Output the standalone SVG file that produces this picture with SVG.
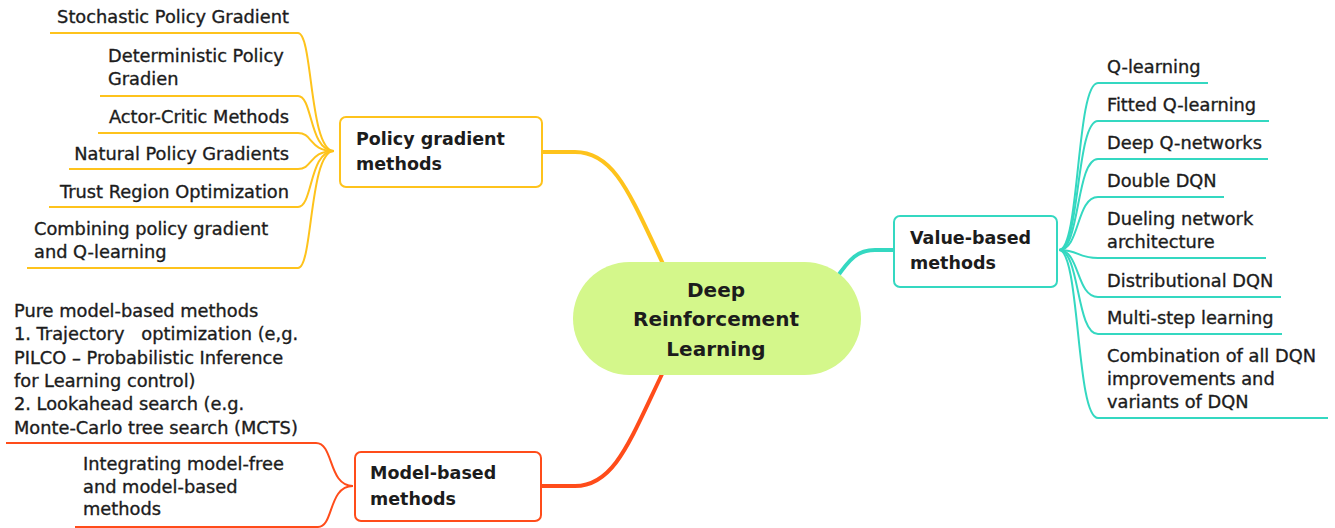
<svg xmlns="http://www.w3.org/2000/svg" width="1335" height="528" viewBox="0 0 1335 528">
<style>
text{font-family:"DejaVu Sans","Liberation Sans",sans-serif;fill:#1c1c1c}
.leaf{font-size:17.8px;stroke:#1c1c1c;stroke-width:0.35}
.lbl{font-size:17.5px;font-weight:bold}
.ctr{font-size:20px;font-weight:bold;text-anchor:middle}
.r{text-anchor:end}
.y{stroke:#FEC31C;fill:none;stroke-width:2}
.t{stroke:#34D8C1;fill:none;stroke-width:2}
.o{stroke:#FF4C1A;fill:none;stroke-width:2}
.box{fill:#fff;stroke-width:2}
</style>
<rect width="1335" height="528" fill="#fff"/>
<g id="connectors">
  <path d="M542 152 L575 152 C615 152 630 195 665 268" stroke="#FEC31C" stroke-width="4" fill="none"/>
  <path d="M665 368 C630 440 615 486 575 486 L541 486" stroke="#FF4C1A" stroke-width="4" fill="none"/>
  <path d="M835 280 C850 258 858 250 875 250 L894 250" stroke="#34D8C1" stroke-width="4" fill="none"/>
  <path class="y" d="M298 33 C313 33 309 151 334 151"/>
  <path class="y" d="M298 96 C313 96 309 151 334 151"/>
  <path class="y" d="M298 133 C313 133 309 151 334 151"/>
  <path class="y" d="M298 169 C313 169 309 151 334 151"/>
  <path class="y" d="M298 207 C313 207 309 151 334 151"/>
  <path class="y" d="M298 268 C313 268 309 151 334 151"/>
  <path class="o" d="M316 443 C334 443 328 486 353 486"/>
  <path class="o" d="M318 527 C334 527 328 486 353 486"/>
  <path class="t" d="M1059 250 C1080 250 1076 83 1098 83"/>
  <path class="t" d="M1059 250 C1080 250 1076 121 1098 121"/>
  <path class="t" d="M1059 250 C1080 250 1076 159 1098 159"/>
  <path class="t" d="M1059 250 C1080 250 1076 197 1098 197"/>
  <path class="t" d="M1059 250 C1080 250 1076 258 1098 258"/>
  <path class="t" d="M1059 250 C1080 250 1076 297 1098 297"/>
  <path class="t" d="M1059 250 C1080 250 1076 334 1098 334"/>
  <path class="t" d="M1059 250 C1080 250 1076 418 1098 418"/>
</g>
<g id="root">
  <rect x="573" y="262" width="288" height="113" rx="56.5" fill="#D4F78B"/>
  <text class="ctr" x="716" y="297">Deep</text>
  <text class="ctr" x="716" y="326">Reinforcement</text>
  <text class="ctr" x="716" y="356">Learning</text>
</g>
<g id="policy-gradient">
  <rect class="box" x="340" y="117" width="202" height="70" rx="6" stroke="#FEC31C"/>
  <text class="lbl" x="356" y="145">Policy gradient</text>
  <text class="lbl" x="356" y="170">methods</text>
</g>
<g id="value-based">
  <rect class="box" x="894" y="216" width="163" height="71" rx="6" stroke="#34D8C1"/>
  <text class="lbl" x="910" y="244">Value-based</text>
  <text class="lbl" x="910" y="269">methods</text>
</g>
<g id="model-based">
  <rect class="box" x="355" y="452" width="186" height="69" rx="6" stroke="#FF4C1A"/>
  <text class="lbl" x="370" y="479">Model-based</text>
  <text class="lbl" x="370" y="505">methods</text>
</g>
<g id="pg-stochastic">
  <text class="leaf r" x="289" y="23">Stochastic Policy Gradient</text>
  <line class="y" x1="50" y1="33" x2="298" y2="33"/>
</g>
<g id="pg-deterministic">
  <text class="leaf" x="108" y="62">Deterministic Policy</text>
  <text class="leaf" x="108" y="85">Gradien</text>
  <line class="y" x1="100" y1="96" x2="298" y2="96"/>
</g>
<g id="pg-actor-critic">
  <text class="leaf r" x="289" y="123">Actor-Critic Methods</text>
  <line class="y" x1="98" y1="133" x2="298" y2="133"/>
</g>
<g id="pg-natural">
  <text class="leaf r" x="289" y="160">Natural Policy Gradients</text>
  <line class="y" x1="69" y1="169" x2="298" y2="169"/>
</g>
<g id="pg-trust">
  <text class="leaf r" x="289" y="198">Trust Region Optimization</text>
  <line class="y" x1="49" y1="207" x2="298" y2="207"/>
</g>
<g id="pg-combining">
  <text class="leaf" x="34" y="235">Combining policy gradient</text>
  <text class="leaf" x="34" y="258">and Q-learning</text>
  <line class="y" x1="27" y1="268" x2="298" y2="268"/>
</g>
<g id="mb-pure">
  <text class="leaf" x="14" y="317">Pure model-based methods</text>
  <text class="leaf" x="14" y="340" style="white-space:pre">1. Trajectory   optimization (e,g.</text>
  <text class="leaf" x="14" y="364">PILCO – Probabilistic Inference</text>
  <text class="leaf" x="14" y="387">for Learning control)</text>
  <text class="leaf" x="14" y="410">2. Lookahead search (e.g.</text>
  <text class="leaf" x="14" y="434">Monte-Carlo tree search (MCTS)</text>
  <line class="o" x1="6" y1="443" x2="316" y2="443"/>
</g>
<g id="mb-integrating">
  <text class="leaf" x="83" y="470">Integrating model-free</text>
  <text class="leaf" x="83" y="493">and model-based</text>
  <text class="leaf" x="83" y="515">methods</text>
  <line class="o" x1="75" y1="527" x2="318" y2="527"/>
</g>
<g id="vb-qlearning">
  <text class="leaf" x="1107" y="73">Q-learning</text>
  <line class="t" x1="1098" y1="83" x2="1208" y2="83"/>
</g>
<g id="vb-fitted">
  <text class="leaf" x="1107" y="111">Fitted Q-learning</text>
  <line class="t" x1="1098" y1="121" x2="1269" y2="121"/>
</g>
<g id="vb-dqn">
  <text class="leaf" x="1107" y="149">Deep Q-networks</text>
  <line class="t" x1="1098" y1="159" x2="1268" y2="159"/>
</g>
<g id="vb-double">
  <text class="leaf" x="1107" y="187">Double DQN</text>
  <line class="t" x1="1098" y1="197" x2="1224" y2="197"/>
</g>
<g id="vb-dueling">
  <text class="leaf" x="1107" y="225">Dueling network</text>
  <text class="leaf" x="1107" y="248">architecture</text>
  <line class="t" x1="1098" y1="258" x2="1266" y2="258"/>
</g>
<g id="vb-distributional">
  <text class="leaf" x="1107" y="287">Distributional DQN</text>
  <line class="t" x1="1098" y1="297" x2="1281" y2="297"/>
</g>
<g id="vb-multistep">
  <text class="leaf" x="1107" y="324">Multi-step learning</text>
  <line class="t" x1="1098" y1="334" x2="1282" y2="334"/>
</g>
<g id="vb-combination">
  <text class="leaf" x="1107" y="362">Combination of all DQN</text>
  <text class="leaf" x="1107" y="385">improvements and</text>
  <text class="leaf" x="1107" y="408">variants of DQN</text>
  <line class="t" x1="1098" y1="418" x2="1328" y2="418"/>
</g>
</svg>
